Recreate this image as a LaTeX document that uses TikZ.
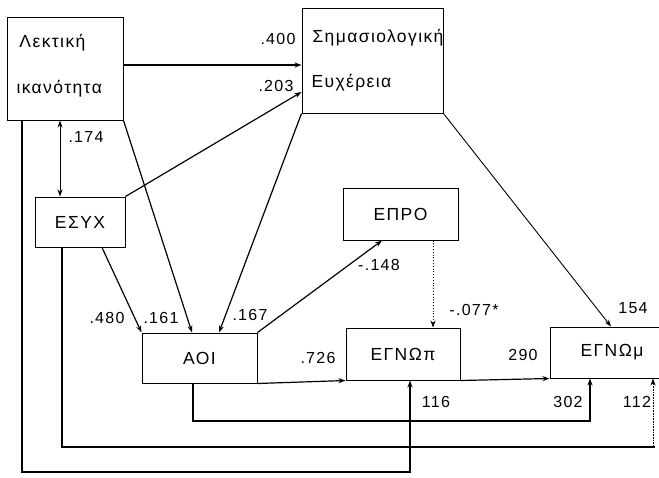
\documentclass[tikz,border=0pt]{standalone}
\usepackage{fontspec}
\setmainfont[LetterSpace=8]{Liberation Sans}
\usetikzlibrary{arrows.meta,calc}
\tikzset{
  box/.style={draw, line width=1pt, rectangle, inner sep=0pt, font=\fontsize{17.5}{19}\selectfont},
  lbl/.style={inner sep=0pt, font=\fontsize{16}{18}\selectfont},
  con/.style={line width=1.2pt},
  arr/.style={con, -{Stealth[length=7pt,width=5pt]}},
  darr/.style={line width=0.9pt, {Stealth[length=7pt,width=5pt]}-{Stealth[length=7pt,width=5pt]}},
  dotarr/.style={line width=0.8pt, dotted, -{Stealth[length=7pt,width=5pt]}},
  thinarr/.style={line width=0.6pt, densely dotted, -{Stealth[length=7pt,width=5pt]}},
}
\begin{document}
\begin{tikzpicture}[x=1pt,y=-1pt]
\useasboundingbox (0,0) rectangle (659,477);
\clip (0,0) rectangle (659,477);
% boxes
\node[box, minimum width=116pt, minimum height=103pt] (lek) at (65,68.5) {};
\node[box, minimum width=141pt, minimum height=105pt] (sim) at (372.5,60.5) {};
\node[box, minimum width=90pt, minimum height=50pt] (esyx) at (80,222) {ΕΣΥΧ};
\node[box, minimum width=115pt, minimum height=52pt] (epro) at (400.5,214) {ΕΠΡΟ};
\node[box, minimum width=115pt, minimum height=50pt] (aoi) at (199.5,358) {ΑΟΙ};
\node[box, minimum width=114pt, minimum height=52pt] (egnp) at (403,354) {ΕΓΝΩπ};
\node[box, minimum width=124pt, minimum height=51pt] (egnm) at (612,352.5) {ΕΓΝΩμ};
% texts inside big boxes
\node[box, draw=none, anchor=west] (lekA) at (19,43) {Λεκτική};
\node[box, draw=none, anchor=west] (lekB) at (16,89) {ικανότητα};
\node[box, draw=none, anchor=west] (simA) at (312,38) {Σημασιολογική};
\node[box, draw=none, anchor=west] (simB) at (311,83) {Ευχέρεια};
% connectors
\draw[arr] (lek.east |- 0,65) -- (sim.west |- 0,65);
\draw[arr] (esyx.north east) -- (sim.west |- 0,92);
\draw[darr] (lek.south -| 60,0) -- (esyx.north -| 60,0);
\draw[arr] (lek.south east) -- (aoi.north -| 192,0);
\draw[arr] (sim.south west) -- (aoi.north -| 219,0);
\draw[arr] (esyx.south -| 102,0) -- (aoi.north west);
\draw[arr] (aoi.north east) -- (epro.south -| 382,0);
\draw[dotarr] (epro.south -| 433,0) -- (egnp.north -| 433,0);
\draw[line width=0.9pt, -{Stealth[length=7pt,width=5pt]}] (sim.south east) -- (egnm.north -| 611,0);
\draw[arr] (aoi.south east) -- (egnp.south west);
\draw[arr] (egnp.south east) -- (egnm.south west);
\draw[arr, line width=1.4pt] (aoi.south -| 193,0) |- (590,421) -- (egnm.south -| 590,0);
\draw[con, line width=1.4pt] (esyx.south -| 62,0) |- (655,447);
\draw[thinarr] (653,447) -- (egnm.south -| 653,0);
\draw[arr, line width=1.4pt] (lek.south -| 22,0) |- (410,472) -- (egnp.south -| 410,0);
% labels
\node[lbl] (l400) at (278,39) {.400};
\node[lbl] (l203) at (276,86) {.203};
\node[lbl] (l174) at (86,137) {.174};
\node[lbl] (l480) at (107,318) {.480};
\node[lbl] (l161) at (161,318) {.161};
\node[lbl] (l167) at (250,315) {.167};
\node[lbl] (l148) at (379,265) {-.148};
\node[lbl] (l077) at (474,310) {-.077*};
\node[lbl] (l154) at (633,308) {154};
\node[lbl] (l726) at (318,358) {.726};
\node[lbl] (l290) at (523,355) {290};
\node[lbl] (l116) at (436,402) {116};
\node[lbl] (l302) at (568,402) {302};
\node[lbl] (l112) at (637,402) {112};
\end{tikzpicture}
\end{document}
